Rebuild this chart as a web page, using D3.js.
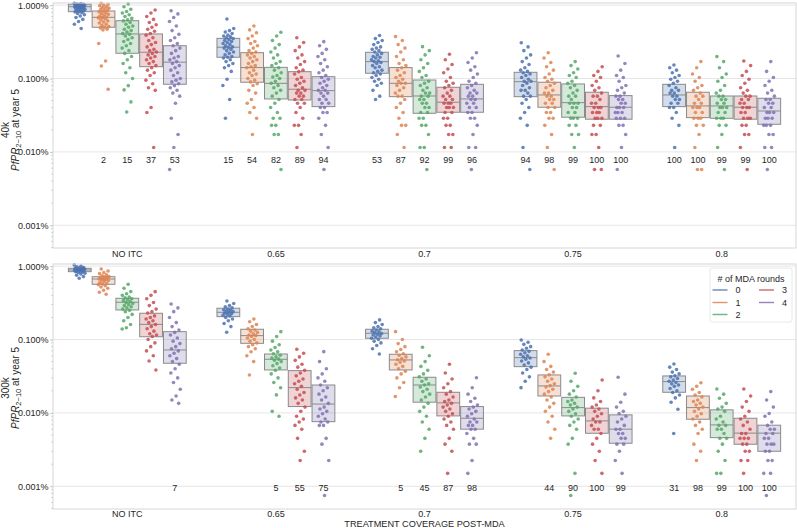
<!DOCTYPE html>
<html><head><meta charset="utf-8">
<script src="https://cdn.jsdelivr.net/npm/d3@7"></script>
<style>
body{margin:0;background:#fff}
svg{display:block}
text{font-family:"Liberation Sans",Arial,Helvetica,sans-serif;fill:#262626}
</style>
</head><body>
<svg id="c" width="797" height="528"></svg>
<script>
// ---------------- DATA ----------------
const groups = ["NO ITC","0.65","0.7","0.75","0.8"];
const rounds = ["0","1","2","3","4"];
const colors = ["#4c72b0","#dd8452","#55a868","#c44e52","#8172b3"];
const yTicks = [1, 0.1, 0.01, 0.001];
const xLabel = "TREATMENT COVERAGE POST-MDA";
const legendTitle = "# of MDA rounds";

// box stats [round][coverage group], in %
const q1_40k = [
 [0.815, 0.195, 0.118, 0.0566, 0.0414],
 [0.50, 0.089, 0.0566, 0.0406, 0.0293],
 [0.221, 0.0527, 0.0336, 0.0297, 0.0287],
 [0.145, 0.051, 0.0347, 0.0279, 0.0279],
 [0.0836, 0.0414, 0.0347, 0.0279, 0.0238]];
const med_40k = [
 [0.953, 0.267, 0.17, 0.0906, 0.0597],
 [0.683, 0.141, 0.086, 0.0597, 0.0423],
 [0.405, 0.086, 0.0578, 0.0469, 0.0423],
 [0.228, 0.0714, 0.0475, 0.0414, 0.0406],
 [0.167, 0.0684, 0.0527, 0.0406, 0.0361]];
const q3_40k = [
 [1.03, 0.353, 0.228, 0.1216, 0.0834],
 [0.832, 0.225, 0.141, 0.089, 0.065],
 [0.614, 0.142, 0.0955, 0.0843, 0.0578],
 [0.405, 0.124, 0.076, 0.065, 0.0578],
 [0.28, 0.106, 0.0834, 0.0585, 0.0538]];
const q1_300k = [
 [0.841, 0.205, 0.104, 0.0427, 0.0191],
 [0.566, 0.0888, 0.0385, 0.017, 0.0082],
 [0.253, 0.0385, 0.014, 0.0091, 0.0046],
 [0.109, 0.0122, 0.0091, 0.00528, 0.00374],
 [0.0475, 0.0076, 0.006, 0.00386, 0.003]];
const med_300k = [
 [0.887, 0.235, 0.1217, 0.0566, 0.0267],
 [0.668, 0.113, 0.0527, 0.0233, 0.0118],
 [0.322, 0.0538, 0.024, 0.0118, 0.00686],
 [0.161, 0.0221, 0.0137, 0.00778, 0.0053],
 [0.0721, 0.0132, 0.00845, 0.006, 0.0053]];
const q3_300k = [
 [0.935, 0.267, 0.138, 0.0706, 0.0319],
 [0.718, 0.138, 0.063, 0.0329, 0.017],
 [0.365, 0.0635, 0.0306, 0.0163, 0.011],
 [0.228, 0.0377, 0.0191, 0.0116, 0.00845],
 [0.128, 0.024, 0.0122, 0.0094, 0.0068]];

// annotation numbers [round][coverage group]
const lab_40k = [
 ["","15","53","94","100"],
 ["2","54","87","98","100"],
 ["15","82","92","99","99"],
 ["37","89","99","100","99"],
 ["53","94","96","100","100"]];
const lab_300k = [
 ["","","","","31"],
 ["","","5","44","98"],
 ["","5","45","90","99"],
 ["","55","87","100","100"],
 ["7","75","98","99","100"]];

// run values (%), per round: [NO ITC, 0.65, 0.7, 0.75, 0.8]
const pts40k_r0 = [
 [1.06,1.05,1.04,1.03,1.03,1.02,1.01,1.0,0.99,0.98,0.97,0.96,0.96,0.95,0.94,0.93,0.92,0.91,0.9,0.89,0.88,0.87,0.85,0.84,0.83,0.82,0.81,0.79,0.77,0.74,0.71,0.68,0.64,0.6,0.55,0.48],
 [0.648,0.48,0.45,0.43,0.41,0.39,0.38,0.37,0.36,0.35,0.34,0.33,0.32,0.31,0.3,0.29,0.28,0.27,0.265,0.26,0.25,0.24,0.23,0.22,0.21,0.2,0.195,0.19,0.18,0.17,0.16,0.15,0.14,0.125,0.0978,0.0805,0.0518,0.0288],
 [0.385,0.35,0.33,0.31,0.29,0.27,0.26,0.25,0.24,0.23,0.22,0.21,0.2,0.195,0.19,0.18,0.175,0.17,0.165,0.16,0.15,0.145,0.14,0.13,0.125,0.12,0.115,0.11,0.1035,0.0978,0.092,0.0863,0.0805,0.069,0.0575,0.0518],
 [0.308,0.27,0.24,0.21,0.19,0.17,0.155,0.14,0.13,0.125,0.12,0.115,0.11,0.1035,0.0978,0.092,0.092,0.0863,0.0805,0.0748,0.069,0.069,0.0633,0.0575,0.0575,0.0518,0.046,0.0403,0.0345,0.0288,0.023,0.0115,0.00575],
 [0.153,0.14,0.13,0.12,0.11,0.1035,0.0978,0.092,0.0863,0.0805,0.0748,0.069,0.069,0.0633,0.0633,0.0575,0.0575,0.0518,0.0518,0.046,0.046,0.0403,0.0403,0.0345,0.0288,0.023,0.0115]];
const pts40k_r1 = [
 [1.06,1.03,1.0,0.98,0.95,0.93,0.91,0.89,0.87,0.85,0.83,0.81,0.79,0.77,0.75,0.73,0.71,0.69,0.68,0.67,0.65,0.63,0.61,0.59,0.57,0.55,0.53,0.51,0.5,0.49,0.47,0.46,0.3,0.173,0.148,0.0714],
 [0.52,0.46,0.42,0.38,0.35,0.32,0.3,0.28,0.26,0.24,0.23,0.22,0.21,0.2,0.19,0.18,0.17,0.16,0.15,0.145,0.14,0.13,0.12,0.115,0.11,0.1,0.095,0.09,0.085,0.0805,0.069,0.0633,0.0518,0.046,0.0403,0.0345,0.0288,0.0173],
 [0.373,0.33,0.29,0.26,0.23,0.2,0.18,0.16,0.15,0.14,0.13,0.12,0.11,0.1035,0.0978,0.092,0.0863,0.0863,0.0805,0.0748,0.069,0.0633,0.0575,0.0575,0.0518,0.046,0.0403,0.0345,0.0288,0.023,0.023,0.0173,0.0115],
 [0.225,0.19,0.165,0.145,0.13,0.115,0.1035,0.0978,0.092,0.0863,0.0805,0.0748,0.069,0.0633,0.0633,0.0575,0.0575,0.0518,0.0518,0.046,0.046,0.0403,0.0403,0.0345,0.0345,0.0288,0.0288,0.023,0.0173,0.0115,0.00575],
 [0.17,0.14,0.115,0.1035,0.092,0.0805,0.0748,0.069,0.0633,0.0575,0.0575,0.0518,0.046,0.046,0.0403,0.0403,0.0403,0.0345,0.0345,0.0288,0.0288,0.0288,0.023,0.023,0.0173,0.0115,0.00575,0.00575]];
const pts40k_r2 = [
 [1.04,0.95,0.88,0.82,0.78,0.74,0.7,0.66,0.63,0.61,0.58,0.55,0.52,0.5,0.47,0.45,0.43,0.41,0.4,0.38,0.36,0.34,0.32,0.3,0.28,0.26,0.24,0.22,0.2,0.18,0.16,0.14,0.12,0.1,0.08,0.07,0.048,0.035],
 [0.427,0.38,0.33,0.29,0.26,0.23,0.21,0.19,0.17,0.16,0.15,0.14,0.13,0.12,0.11,0.105,0.1,0.092,0.0863,0.0805,0.0748,0.069,0.0633,0.0575,0.0518,0.046,0.0403,0.0345,0.0288,0.0288,0.023,0.023,0.0173,0.0173,0.00575],
 [0.272,0.24,0.21,0.18,0.16,0.14,0.125,0.11,0.1035,0.092,0.0863,0.0805,0.0748,0.069,0.0633,0.0633,0.0575,0.0575,0.0518,0.0518,0.046,0.046,0.0403,0.0403,0.0345,0.0345,0.0288,0.0288,0.023,0.023,0.0173,0.0115,0.0115,0.00575],
 [0.17,0.15,0.135,0.12,0.11,0.1035,0.092,0.0863,0.0805,0.0748,0.069,0.0633,0.0575,0.0575,0.0518,0.046,0.046,0.046,0.0403,0.0403,0.0345,0.0345,0.0288,0.0288,0.0288,0.023,0.023,0.0173,0.0173,0.0115],
 [0.199,0.17,0.14,0.115,0.1035,0.092,0.0805,0.069,0.0633,0.0575,0.0575,0.0518,0.0518,0.046,0.046,0.0403,0.0403,0.0403,0.0345,0.0345,0.0288,0.0288,0.0288,0.023,0.023,0.0173,0.0115,0.00575]];
const pts40k_r3 = [
 [0.86,0.78,0.7,0.64,0.58,0.54,0.5,0.47,0.44,0.41,0.39,0.36,0.33,0.31,0.29,0.27,0.25,0.24,0.23,0.22,0.21,0.2,0.19,0.18,0.17,0.16,0.15,0.14,0.13,0.12,0.11,0.095,0.085,0.075,0.069,0.0403,0.0345,0.0115],
 [0.36,0.31,0.27,0.24,0.21,0.19,0.17,0.155,0.14,0.13,0.124,0.115,0.1035,0.0978,0.092,0.0863,0.0805,0.0748,0.069,0.069,0.0633,0.0633,0.0575,0.0575,0.0518,0.0518,0.046,0.046,0.0403,0.0345,0.0288,0.023,0.023,0.0173,0.0115],
 [0.214,0.18,0.155,0.135,0.12,0.1035,0.092,0.0863,0.0805,0.0748,0.069,0.0633,0.0575,0.0575,0.0518,0.0518,0.046,0.046,0.046,0.0403,0.0403,0.0403,0.0345,0.0345,0.0288,0.0288,0.023,0.023,0.0173,0.0173,0.0115,0.0115],
 [0.145,0.125,0.11,0.1035,0.092,0.0805,0.0748,0.069,0.0633,0.0575,0.0575,0.0518,0.046,0.046,0.0403,0.0403,0.0403,0.0345,0.0345,0.0345,0.0288,0.0288,0.0288,0.023,0.023,0.0173,0.0173,0.0115,0.00575,0.00575],
 [0.173,0.15,0.125,0.11,0.0978,0.0863,0.0748,0.069,0.0633,0.0575,0.0575,0.0518,0.0518,0.046,0.046,0.0403,0.0403,0.0403,0.0345,0.0345,0.0288,0.0288,0.0288,0.023,0.023,0.0173,0.0173,0.0115,0.00575]];
const pts40k_r4 = [
 [0.84,0.76,0.68,0.6,0.52,0.45,0.4,0.36,0.33,0.3,0.28,0.26,0.24,0.22,0.2,0.19,0.18,0.17,0.16,0.15,0.14,0.13,0.12,0.11,0.1,0.095,0.09,0.085,0.08,0.075,0.069,0.0633,0.0575,0.046,0.0288,0.0173,0.0115,0.00575],
 [0.318,0.28,0.25,0.22,0.2,0.18,0.16,0.145,0.13,0.12,0.11,0.1035,0.0978,0.092,0.0863,0.0805,0.0748,0.069,0.069,0.0633,0.0633,0.0575,0.0518,0.0518,0.046,0.046,0.0403,0.0403,0.0345,0.0345,0.0288,0.023,0.0173,0.0115,0.00575],
 [0.225,0.19,0.165,0.145,0.13,0.115,0.1035,0.092,0.0863,0.0805,0.0748,0.069,0.0633,0.0633,0.0575,0.0575,0.0518,0.0518,0.046,0.046,0.0403,0.0403,0.0345,0.0345,0.0288,0.0288,0.023,0.0173,0.0115,0.0115,0.00575],
 [0.203,0.16,0.13,0.11,0.1035,0.092,0.0805,0.0748,0.069,0.0633,0.0575,0.0575,0.0518,0.0518,0.046,0.046,0.0403,0.0403,0.0403,0.0345,0.0345,0.0345,0.0288,0.0288,0.0288,0.023,0.023,0.0173,0.0115,0.00575],
 [0.17,0.125,0.1035,0.092,0.0805,0.069,0.0633,0.0575,0.0518,0.0518,0.046,0.046,0.0403,0.0403,0.0345,0.0345,0.0345,0.0288,0.0288,0.0288,0.023,0.023,0.023,0.0173,0.0173,0.0115,0.0115,0.00575]];

const pts300k_r0 = [
 [1.04,1.0,0.98,0.96,0.95,0.94,0.93,0.92,0.91,0.9,0.9,0.89,0.89,0.88,0.88,0.87,0.86,0.85,0.84,0.83,0.82,0.8,0.78,0.75,0.72,0.684],
 [0.335,0.31,0.29,0.28,0.27,0.26,0.255,0.25,0.245,0.24,0.235,0.23,0.225,0.22,0.215,0.21,0.2,0.19,0.18,0.165,0.15,0.1256],
 [0.185,0.17,0.16,0.15,0.145,0.14,0.135,0.13,0.127,0.124,0.121,0.118,0.115,0.112,0.108,0.104,0.1,0.095,0.09,0.083,0.075,0.0636],
 [0.0986,0.092,0.086,0.08,0.076,0.072,0.069,0.066,0.063,0.06,0.058,0.056,0.054,0.051,0.048,0.045,0.042,0.039,0.035,0.031,0.027,0.0221],
 [0.0465,0.042,0.039,0.036,0.034,0.032,0.031,0.0295,0.028,0.027,0.026,0.025,0.024,0.023,0.0215,0.02,0.019,0.0175,0.016,0.014,0.0112,0.00525]];
const pts300k_r1 = [
 [0.915,0.86,0.82,0.79,0.76,0.74,0.72,0.71,0.7,0.69,0.68,0.67,0.66,0.65,0.64,0.62,0.6,0.58,0.57,0.56,0.54,0.52,0.5,0.47,0.44,0.414],
 [0.19,0.175,0.16,0.15,0.14,0.135,0.13,0.125,0.12,0.115,0.113,0.11,0.105,0.1,0.095,0.09,0.085,0.08,0.075,0.068,0.06,0.05,0.0329],
 [0.128,0.1,0.088,0.08,0.073,0.068,0.064,0.061,0.058,0.055,0.053,0.051,0.049,0.046,0.043,0.04,0.037,0.034,0.03,0.026,0.022,0.0167],
 [0.063,0.05,0.043,0.039,0.036,0.033,0.031,0.029,0.027,0.025,0.0235,0.0225,0.021,0.0195,0.018,0.0165,0.015,0.0135,0.012,0.0105,0.009,0.0075,0.006,0.0045],
 [0.0258,0.023,0.021,0.019,0.0175,0.0165,0.015,0.0143,0.0135,0.0128,0.012,0.0113,0.0105,0.00975,0.009,0.00825,0.0075,0.00675,0.006,0.00525,0.00375,0.003,0.00225]];
const pts300k_r2 = [
 [0.566,0.5,0.45,0.42,0.4,0.38,0.37,0.36,0.35,0.34,0.33,0.32,0.31,0.3,0.29,0.28,0.27,0.26,0.25,0.24,0.22,0.2,0.18,0.16,0.145,0.139],
 [0.128,0.11,0.095,0.085,0.078,0.072,0.068,0.064,0.061,0.058,0.056,0.054,0.052,0.05,0.047,0.044,0.041,0.038,0.034,0.03,0.026,0.022,0.0176,0.0105,0.009],
 [0.0784,0.06,0.05,0.043,0.038,0.034,0.031,0.029,0.027,0.025,0.024,0.0225,0.021,0.0195,0.018,0.0165,0.015,0.0135,0.012,0.0105,0.009,0.0075,0.006,0.0045,0.003],
 [0.0347,0.027,0.023,0.02,0.018,0.0165,0.015,0.0143,0.0135,0.0128,0.012,0.0113,0.0105,0.00975,0.009,0.00825,0.0075,0.00675,0.006,0.0045,0.00375,0.0015,0.00075],
 [0.0212,0.018,0.0158,0.0135,0.012,0.0113,0.0105,0.009,0.00825,0.0075,0.00675,0.00675,0.006,0.006,0.00525,0.0045,0.0045,0.00375,0.003,0.00225,0.0015,0.0015]];
const pts300k_r3 = [
 [0.449,0.4,0.36,0.32,0.29,0.26,0.24,0.23,0.21,0.2,0.19,0.18,0.17,0.16,0.15,0.14,0.13,0.12,0.115,0.11,0.1,0.09,0.08,0.07,0.06,0.051,0.0385],
 [0.0736,0.065,0.058,0.052,0.046,0.042,0.038,0.035,0.032,0.029,0.027,0.025,0.023,0.021,0.019,0.0175,0.016,0.015,0.0135,0.012,0.0105,0.009,0.00825,0.0075,0.00675,0.006,0.0045,0.003,0.00225],
 [0.046,0.035,0.029,0.025,0.022,0.0195,0.018,0.0165,0.015,0.0143,0.0135,0.0128,0.012,0.0113,0.0105,0.00975,0.009,0.00825,0.0075,0.00675,0.006,0.0045,0.00375,0.003,0.0015],
 [0.0281,0.02,0.016,0.0143,0.0128,0.012,0.0113,0.0105,0.00975,0.009,0.00825,0.0075,0.0075,0.00675,0.006,0.006,0.00525,0.0045,0.00375,0.003,0.00225,0.0015],
 [0.0212,0.017,0.0143,0.012,0.0105,0.009,0.00825,0.0075,0.00675,0.006,0.00525,0.00525,0.0045,0.0045,0.0045,0.00375,0.00375,0.003,0.003,0.00225,0.00225,0.0015]];
const pts300k_r4 = [
 [0.305,0.27,0.24,0.2,0.17,0.15,0.135,0.125,0.115,0.105,0.095,0.088,0.08,0.075,0.07,0.065,0.06,0.055,0.05,0.046,0.04,0.035,0.03,0.026,0.021,0.017,0.015,0.0135],
 [0.0684,0.05,0.04,0.034,0.03,0.027,0.024,0.022,0.02,0.018,0.0165,0.015,0.0135,0.012,0.0113,0.0105,0.00975,0.009,0.00825,0.0075,0.0075,0.00675,0.00675,0.0045,0.00375,0.00225,0.00075],
 [0.0302,0.022,0.018,0.0158,0.0143,0.0128,0.012,0.0113,0.0105,0.00975,0.009,0.00825,0.0075,0.0075,0.00675,0.00675,0.006,0.006,0.00525,0.0045,0.00375,0.00375,0.00225,0.0015],
 [0.0306,0.018,0.014,0.012,0.0105,0.0098,0.009,0.00825,0.0075,0.00675,0.006,0.006,0.00525,0.00525,0.0045,0.0045,0.00375,0.00375,0.003,0.00225,0.0015],
 [0.0195,0.015,0.012,0.0098,0.009,0.0075,0.00675,0.006,0.006,0.00525,0.00525,0.0045,0.0045,0.00375,0.00375,0.00375,0.003,0.003,0.00225,0.00225,0.0015,0.0015,0.00075]];

// ---------------- LAYOUT ----------------
const svg = d3.select("#c");
const left = 53, right = 796;
const yDomain = [0.00049, 1.07];
const panels = [
  {name:"40k", top:3, bottom:248, q1:q1_40k, med:med_40k, q3:q3_40k,
   pts:[pts40k_r0,pts40k_r1,pts40k_r2,pts40k_r3,pts40k_r4], lab:lab_40k, labV:0.0078, ylabY:130, tickPad:2.2},
  {name:"300k", top:264, bottom:509, q1:q1_300k, med:med_300k, q3:q3_300k,
   pts:[pts300k_r0,pts300k_r1,pts300k_r2,pts300k_r3,pts300k_r4], lab:lab_300k, labV:0.00094, ylabY:388, tickPad:1.2}
];
const x = d3.scaleBand().domain(groups).range([left, right]).padding(0);
const bw = x.bandwidth();
const xh = d3.scaleBand().domain(rounds).range([0, bw*0.8]).padding(0);
const hw = xh.bandwidth();
const hx = (g, r) => x(g) + bw*0.1 + xh(r);
const fmt = d => d3.format(".3f")(d) + "%";
const gridCol = "#e6e6e6", spineCol = "#d6d6d6", boxEdge = "#8a8a8a";

panels.forEach(P => {
  const y = d3.scaleLog().domain(yDomain).range([P.bottom, P.top]);
  const g = svg.append("g");

  // gridlines
  g.selectAll(".grid").data(yTicks).join("line")
    .attr("x1", left).attr("x2", right)
    .attr("y1", d => y(d)).attr("y2", d => y(d))
    .attr("stroke", gridCol).attr("stroke-width", 1);

  // minor ticks
  const minors = [];
  for (let e = -4; e <= 0; e++) for (let m = 2; m <= 9; m++) {
    const v = m * Math.pow(10, e);
    if (v >= yDomain[0] && v <= yDomain[1]) minors.push(v);
  }
  g.selectAll(".minor").data(minors).join("line")
    .attr("x1", left - 2).attr("x2", left)
    .attr("y1", d => y(d)).attr("y2", d => y(d))
    .attr("stroke", "#c8c8c8").attr("stroke-width", 0.8);

  // boxes
  rounds.forEach((r, ri) => {
    groups.forEach((gr, gi) => {
      const x0 = hx(gr, r);
      const q1 = P.q1[ri][gi], q3 = P.q3[ri][gi], md = P.med[ri][gi];
      g.append("rect")
        .attr("x", x0 + 0.5).attr("width", hw - 1)
        .attr("y", y(q3)).attr("height", y(q1) - y(q3))
        .attr("fill", colors[ri]).attr("fill-opacity", 0.25)
        .attr("stroke", boxEdge).attr("stroke-width", 1);
      g.append("line")
        .attr("x1", x0 + 0.5).attr("x2", x0 + hw - 0.5)
        .attr("y1", y(md)).attr("y2", y(md))
        .attr("stroke", boxEdge).attr("stroke-width", 1);
    });
  });

  // points (strip, deterministic jitter)
  rounds.forEach((r, ri) => {
    groups.forEach((gr, gi) => {
      const cx = hx(gr, r) + hw / 2;
      const vals = P.pts[ri][gi];
      g.append("g").selectAll("circle").data(vals).join("circle")
        .attr("cx", (d, i) => cx + ((((i * 0.618034 + ri * 0.29 + gi * 0.37) % 1) - 0.5) * 11))
        .attr("cy", d => y(d))
        .attr("r", 1.8)
        .attr("fill", colors[ri]).attr("fill-opacity", 0.85);
    });
  });

  // annotation numbers
  rounds.forEach((r, ri) => {
    groups.forEach((gr, gi) => {
      const t = P.lab[ri][gi];
      if (!t) return;
      g.append("text").attr("x", hx(gr, r) + hw / 2).attr("y", y(P.labV))
        .attr("dy", "0.35em").attr("text-anchor", "middle")
        .attr("font-size", 9).text(t);
    });
  });

  // spines
  g.append("rect").attr("x", left).attr("y", P.top)
    .attr("width", right - left).attr("height", P.bottom - P.top)
    .attr("fill", "none").attr("stroke", spineCol).attr("stroke-width", 1);

  // y axis
  const ya = g.append("g").attr("transform", `translate(${left},0)`)
    .call(d3.axisLeft(y).tickValues(yTicks).tickFormat(fmt).tickSize(3).tickSizeOuter(0).tickPadding(1.5));
  ya.select(".domain").remove();
  ya.selectAll(".tick line").attr("stroke", "#c8c8c8");
  ya.selectAll(".tick text").attr("font-size", 9).attr("font-family", "Liberation Sans, Arial, sans-serif").attr("fill", "#262626");

  // x axis labels
  const xa = g.append("g").attr("transform", `translate(0,${P.bottom})`)
    .call(d3.axisBottom(x).tickSize(0).tickPadding(P.tickPad));
  xa.select(".domain").remove();
  xa.selectAll(".tick text").attr("font-size", 9).attr("font-family", "Liberation Sans, Arial, sans-serif").attr("fill", "#262626");

  // y label (two lines)
  g.append("text").attr("transform", `translate(9,${P.ylabY}) rotate(-90)`)
    .attr("text-anchor", "middle").attr("font-size", 10).text(P.name);
  const t2 = g.append("text").attr("transform", `translate(18.5,${P.ylabY}) rotate(-90)`)
    .attr("text-anchor", "middle").attr("font-size", 10);
  t2.append("tspan").attr("font-style", "italic").text("PfPR");
  t2.append("tspan").attr("font-size", 7.5).attr("dy", 2.5).text("2\u221210");
  t2.append("tspan").attr("dy", -2.5).text(" at year 5");
});

// x title
svg.append("text").attr("x", (left + right) / 2).attr("y", 527.3)
  .attr("text-anchor", "middle").attr("font-size", 9.2).text(xLabel);

// legend
const lg = svg.append("g");
lg.append("rect").attr("x", 710).attr("y", 268).attr("width", 82).attr("height", 54)
  .attr("rx", 2).attr("fill", "#fff").attr("fill-opacity", 0.8)
  .attr("stroke", "#e2e2e2").attr("stroke-width", 0.8);
lg.append("text").attr("x", 751).attr("y", 279).attr("dy", "0.35em")
  .attr("text-anchor", "middle").attr("font-size", 9).text(legendTitle);
const legPos = [[712.5, 290], [712.5, 302.5], [712.5, 314.5], [759, 290], [759, 302.5]];
rounds.forEach((r, i) => {
  const [lx, ly] = legPos[i];
  lg.append("line").attr("x1", lx).attr("x2", lx + 15).attr("y1", ly).attr("y2", ly)
    .attr("stroke", colors[i]).attr("stroke-width", 1.4).attr("stroke-opacity", 0.85);
  lg.append("text").attr("x", lx + 23).attr("y", ly).attr("dy", "0.35em")
    .attr("font-size", 9).text(r);
});
</script>
</body></html>
